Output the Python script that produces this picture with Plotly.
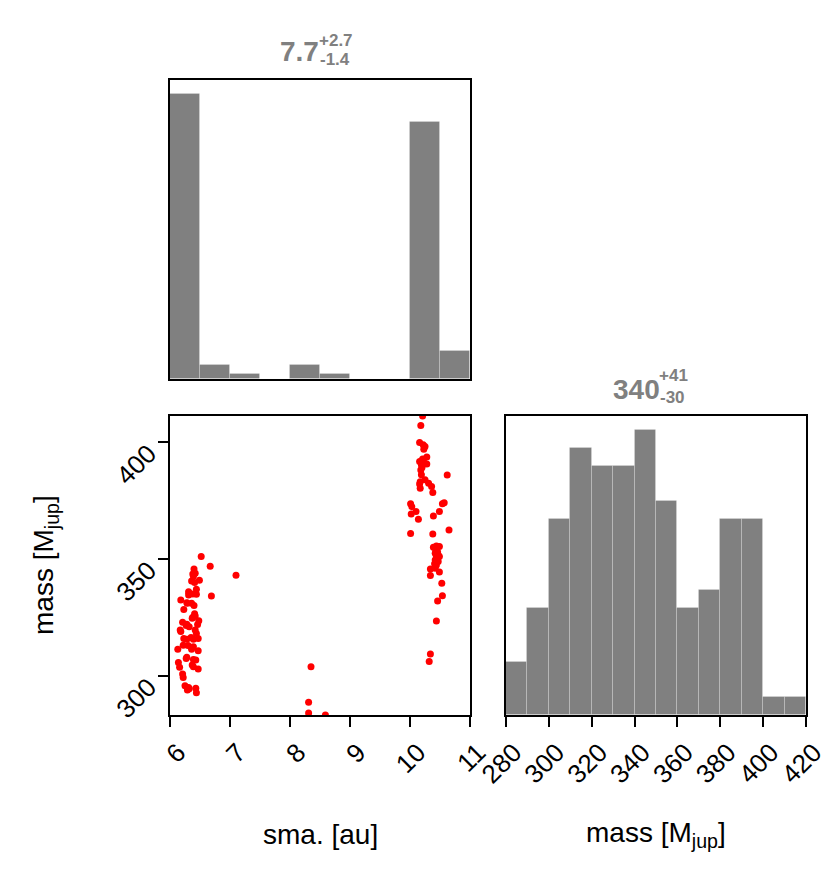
import plotly.graph_objects as go

# histogram counts
sma_bin_left = [6.0, 6.5, 7.0, 7.5, 8.0, 8.5, 9.0, 9.5, 10.0, 10.5]
sma_counts = [61, 3, 1, 0, 3, 1, 0, 0, 55, 6]

mass_bin_left = [280, 290, 300, 310, 320, 330, 340, 350, 360, 370, 380, 390, 400, 410]
mass_counts = [3, 6, 11, 15, 14, 14, 16, 12, 6, 7, 11, 11, 1, 1]

# scatter samples (sma [au], mass [Mjup])
sma = [
    6.52, 6.67, 7.10, 6.69, 6.40, 6.38, 6.42, 6.36, 6.49, 6.41, 6.31, 6.44, 6.32, 6.38, 6.44,
    6.18, 6.28, 6.36, 6.23, 6.40, 6.42, 6.38, 6.48, 6.21, 6.28, 6.46, 6.32, 6.17, 6.18, 6.42,
    6.44, 6.23, 6.28, 6.39, 6.47, 6.22, 6.39, 6.13, 6.47, 6.36, 6.28, 6.39, 6.43, 6.14, 6.16,
    6.39, 6.47, 6.22, 6.25, 6.31, 6.29, 6.43, 6.44,
    6.39, 6.31, 6.29, 6.41, 6.37, 6.27, 6.35, 6.30, 6.27, 6.37, 6.21, 6.32,
    8.35, 8.31, 8.31, 8.59,
    10.21, 10.18, 10.16, 10.22, 10.25, 10.28, 10.16, 10.22, 10.19, 10.28, 10.18, 10.19, 10.25,
    10.62, 10.16, 10.17, 10.31, 10.36, 10.38, 10.57, 10.54, 10.01, 10.03, 10.02, 10.10, 10.49,
    10.39, 10.14, 10.65, 10.01, 10.38, 10.39, 10.49, 10.43, 10.42, 10.47, 10.44, 10.49, 10.42,
    10.47, 10.44, 10.34, 10.42, 10.49, 10.34, 10.53, 10.54, 10.46, 10.44, 10.34, 10.32,
    10.21, 10.24, 10.20, 10.17, 10.43, 10.45, 10.41, 10.46, 10.44, 10.23,
]
mass = [
    351.0, 346.9, 343.0, 334.1, 345.7, 343.6, 343.9, 340.6, 340.9, 339.9, 336.0, 337.0, 335.3, 335.0, 334.9,
    332.4, 331.3, 331.0, 328.4, 330.1, 325.6, 325.0, 323.6, 322.9, 322.1, 321.9, 321.0, 319.6, 318.9, 319.6,
    318.1, 316.0, 315.6, 315.6, 315.9, 313.1, 312.4, 311.4, 310.7, 311.3, 307.9, 307.0, 306.7, 305.7, 303.6,
    303.9, 302.9, 299.3, 295.7, 295.0, 293.9, 294.6, 292.7,
    342.6, 334.6, 331.0, 326.5, 324.6, 321.5, 316.4, 312.9, 307.4, 304.6, 300.8, 294.4,
    303.9, 288.7, 284.1, 283.2,
    411.2, 407.1, 399.9, 398.9, 398.1, 393.6, 391.7, 392.0, 390.3, 390.7, 388.1, 386.0, 383.9,
    385.9, 382.1, 380.3, 382.4, 381.0, 378.4, 374.1, 373.6, 373.6, 372.4, 369.3, 370.3, 370.3,
    368.4, 367.0, 362.4, 360.9, 360.7, 355.0, 355.3, 353.9, 352.4, 351.7, 351.0, 351.0, 349.6,
    348.9, 347.4, 345.7, 346.0, 344.4, 342.9, 339.6, 334.3, 332.0, 323.4, 309.3, 306.1,
    392.8, 391.0, 389.2, 383.0, 352.8, 350.2, 348.0, 353.0, 355.6, 397.0,
]

sma_ticks = [6, 7, 8, 9, 10, 11]
mass_ticks_scatter = [300, 350, 400]
mass_ticks_hist = [280, 300, 320, 340, 360, 380, 400, 420]

# page body has an 8px margin, so the figure is a bit smaller than the window
PAD = 8
W, H = 838 - 2 * PAD, 876 - 2 * PAD
FONT = "Liberation Sans, Arial, sans-serif"
GREY = "#808080"


def px_x(p):
    return (p - PAD) / W


def px_y(p):
    return 1 - (p - PAD) / H


fig = go.Figure()

fig.add_trace(go.Bar(
    x=[b + 0.25 for b in sma_bin_left], y=sma_counts, width=0.5,
    marker=dict(color=GREY, line=dict(color="rgba(255,255,255,0.2)", width=1)),
    xaxis="x", yaxis="y", showlegend=False,
))
fig.add_trace(go.Scatter(
    x=sma, y=mass, mode="markers",
    marker=dict(color="red", size=7, line=dict(width=0)),
    xaxis="x2", yaxis="y2", showlegend=False, cliponaxis=True,
))
fig.add_trace(go.Bar(
    x=[b + 5 for b in mass_bin_left], y=mass_counts, width=10,
    marker=dict(color=GREY, line=dict(color="rgba(255,255,255,0.2)", width=1)),
    xaxis="x3", yaxis="y3", showlegend=False,
))

box = dict(showline=True, linecolor="black", linewidth=2, mirror=True,
           showgrid=False, zeroline=False, automargin=False)
tick = dict(ticks="outside", ticklen=10, tickwidth=2, tickcolor="black",
            tickangle=-45, tickfont=dict(family=FONT, size=26, color="black"))

dom_left = [px_x(170), px_x(470)]
dom_right = [px_x(506), px_x(806)]
dom_top = [px_y(379), px_y(80)]
dom_bot = [px_y(715), px_y(416)]

fig.update_layout(
    width=W, height=H,
    margin=dict(l=0, r=0, t=0, b=0),
    paper_bgcolor="white", plot_bgcolor="white",
    bargap=0,
    xaxis=dict(domain=dom_left, anchor="y", range=[6, 11], showticklabels=False, **box),
    yaxis=dict(domain=dom_top, anchor="x", range=[0, max(sma_counts) * 1.05], showticklabels=False, **box),
    xaxis2=dict(domain=dom_left, anchor="y2", range=[6, 11], tickvals=sma_ticks,
                ticklabelshift=8, **box, **tick),
    yaxis2=dict(domain=dom_bot, anchor="x2", range=[283.2, 411.2], tickvals=mass_ticks_scatter,
                ticklabelstandoff=4, ticklabelshift=8, **box, **tick),
    xaxis3=dict(domain=dom_right, anchor="y3", range=[280, 420], tickvals=mass_ticks_hist,
                ticklabelshift=8, **box, **tick),
    yaxis3=dict(domain=dom_bot, anchor="x3", range=[0, max(mass_counts) * 1.05], showticklabels=False, **box),
)


def add_text(text, x, y, size, xanchor="center", yanchor="middle", color="black", bold=False, angle=0):
    fig.add_annotation(
        text=f"<b>{text}</b>" if bold else text,
        xref="paper", yref="paper", x=px_x(x), y=px_y(y),
        xanchor=xanchor, yanchor=yanchor, showarrow=False, textangle=angle,
        font=dict(family=FONT, size=size, color=color),
    )


# panel titles: median with +/- errors
add_text("7.7", 321, 51, 28, xanchor="right", color=GREY, bold=True)
add_text("+2.7", 317, 40, 17, xanchor="left", color=GREY, bold=True)
add_text("-1.4", 318, 59, 17, xanchor="left", color=GREY, bold=True)

add_text("340", 662, 390, 28, xanchor="right", color=GREY, bold=True)
add_text("+41", 657, 375, 17, xanchor="left", color=GREY, bold=True)
add_text("-30", 658, 397, 17, xanchor="left", color=GREY, bold=True)

# axis titles
add_text("sma. [au]", 320, 834, 28)
add_text("mass [M<sub>jup</sub>]", 656, 834, 28)
add_text("mass [M<sub>jup</sub>]", 45, 565, 28, angle=-90)

fig.write_html("out.html")
